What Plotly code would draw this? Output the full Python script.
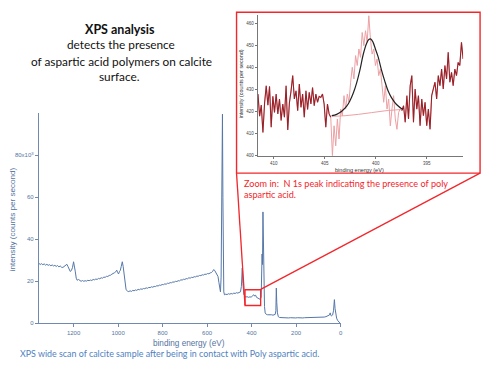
import plotly.graph_objects as go

# ---------------- wide scan data (binding energy eV, intensity in 10^3 cps) ----------------
wide_be = [1356, 1350, 1344, 1338, 1332, 1326, 1320, 1314, 1308, 1302, 1296, 1290, 1284, 1278, 1272,
           1266, 1260, 1254, 1248, 1242, 1236, 1230, 1225, 1220, 1215, 1210, 1205, 1200, 1196, 1192,
           1188, 1184, 1178, 1172, 1166, 1160, 1154, 1148, 1142, 1136, 1130, 1124, 1118, 1112, 1106,
           1100, 1094, 1088, 1082, 1076, 1070, 1064, 1058, 1052, 1046, 1040, 1034, 1028, 1022, 1016,
           1010, 1006, 1002, 998, 994, 990, 986, 981, 977, 973, 968, 964, 958, 952, 946,
           940, 934, 928, 922, 916, 910, 904, 898, 892, 886, 880, 874, 868, 862, 856,
           850, 844, 838, 832, 826, 820, 814, 808, 802, 796, 790, 784, 778, 772, 766,
           760, 754, 748, 742, 736, 730, 724, 718, 712, 706, 700, 694, 688, 682, 676,
           670, 664, 658, 652, 646, 640, 634, 628, 622, 616, 610, 604, 598, 592, 586,
           580, 575, 570, 565, 560, 555, 551, 547, 543, 540, 537, 535, 533, 531, 529,
           527, 525, 522, 516, 510, 504, 498, 492, 486, 480, 474, 468, 462, 456, 450,
           446, 442, 439, 435, 430, 426, 420, 414, 408, 402, 398, 394, 390, 386, 382,
           378, 372, 366, 361, 357, 355, 353, 351, 349, 347, 345, 342, 339, 334, 328,
           322, 316, 310, 304, 298, 294, 291, 289, 287, 284, 280, 274, 266, 258, 250,
           242, 234, 226, 218, 210, 202, 194, 186, 178, 170, 162, 154, 146, 138, 130,
           122, 114, 106, 98, 90, 82, 74, 66, 60, 54, 50, 47, 44, 40, 36,
           32, 28, 25, 22, 18, 14, 10, 6, 2]
wide_cps = [28.6, 28.0, 28.4, 27.9, 28.3, 27.7, 28.1, 27.6, 27.9, 27.4, 27.8, 27.3, 27.6, 27.1, 27.5,
            26.9, 27.3, 26.7, 26.6, 27.2, 27.8, 28.1, 27.0, 25.3, 24.7, 25.1, 26.5, 29.3, 27.5, 24.5,
            21.5, 20.5, 20.9, 20.2, 20.0, 20.4, 20.0, 20.3, 20.1, 20.5, 20.3, 20.6, 20.4, 20.9, 20.7,
            21.1, 20.9, 21.4, 21.2, 21.7, 21.5, 22.0, 21.9, 22.4, 22.3, 22.8, 22.9, 23.4, 23.6, 24.1,
            24.6, 25.3, 24.2, 23.5, 24.6, 25.2, 27.0, 29.3, 27.0, 23.0, 18.0, 16.0, 15.4, 15.1, 15.5,
            15.2, 15.7, 15.5, 15.9, 15.7, 16.2, 16.0, 16.4, 16.2, 16.6, 16.5, 16.9, 16.7, 17.1, 17.0,
            17.4, 17.2, 17.6, 17.5, 17.9, 17.8, 18.2, 18.1, 18.5, 18.4, 18.8, 18.6, 19.1, 19.0, 19.4,
            19.3, 19.7, 19.6, 20.0, 19.9, 20.3, 20.2, 20.7, 20.6, 21.0, 20.9, 21.3, 21.2, 21.7, 21.5,
            21.9, 21.8, 22.2, 22.1, 22.5, 22.4, 22.8, 22.7, 23.1, 23.0, 23.4, 23.3, 23.7, 23.6, 24.0,
            24.2, 24.8, 25.6, 25.0, 24.0, 23.2, 22.3, 19.5, 16.5, 15.0, 22.0, 45.0, 80.0, 99.5, 60.0,
            25.0, 15.0, 13.6, 13.9, 13.7, 14.1, 13.9, 14.2, 14.0, 14.4, 14.2, 14.6, 14.4, 14.8, 15.0,
            17.5, 26.3, 19.0, 13.8, 12.9, 12.5, 12.7, 12.4, 12.6, 12.5, 12.9, 13.1, 13.6, 13.0, 13.4,
            12.4, 12.0, 11.7, 11.4, 12.5, 20.0, 33.0, 28.0, 53.0, 30.0, 15.0, 8.0, 5.0, 4.3, 4.1,
            4.2, 4.0, 4.1, 3.9, 4.0, 4.3, 6.0, 16.8, 10.0, 5.0, 3.2, 2.8, 2.7, 2.8, 2.6,
            2.7, 2.6, 2.7, 2.6, 2.7, 2.6, 2.7, 2.6, 2.7, 2.6, 2.7, 2.7, 2.8, 2.7, 2.8,
            2.7, 2.8, 2.8, 2.9, 2.9, 3.0, 3.0, 3.2, 3.4, 3.5, 4.0, 5.0, 3.8, 3.6, 4.0,
            6.0, 11.3, 7.0, 3.5, 2.5, 1.5, 1.0, 0.6, 0.0]

wide_xticks = [0, 200, 400, 600, 800, 1000, 1200]
wide_yticks = [0, 20, 40, 60, 80]
wide_yticktext = ["0", "20", "40", "60", "80x10<sup>3</sup>"]

# ---------------- N 1s zoom data ----------------
n1s_start = 411.56
n1s_step = 0.1624
n1s_left = [428, 418, 423, 410.6, 424, 431.8, 423, 431.5, 413, 427, 419.7, 428, 419, 425.8, 416,
            423.5, 417.5, 431.8, 411.7, 424, 429.5, 436.4, 425.8, 429.5, 420.5, 432.6, 422, 428, 417.5, 429.5,
            421, 428.8, 423.5, 431, 422.7, 428, 424.3, 427, 426.5, 428, 423.5, 413, 423.5, 419, 417.5]
n1s_mid = [400, 413.6, 404.5, 416.7, 407.6, 421.2, 418.2, 427.3, 421.2, 428, 424.4, 433.4, 440.2, 434.9, 445.5,
           441, 448.5, 444.7, 456, 450, 456.8, 451.5, 463.6, 453, 446.2, 448.5, 441, 444, 436.4, 439.4,
           430.3, 424.3, 431.8, 421.2, 425.8, 413.6, 421.2, 427.3, 416.7, 412, 419.7, 421.2, 420.5]
n1s_right = [422.7, 415.2, 427.3, 416.7, 431.8, 436.4, 415.2, 430.3, 421.2, 427.3, 413.6, 425.8, 418.2,
             424.3, 413.6, 421.2, 412, 427.3, 430.3, 433.4, 425.8, 436.4, 431.8, 439.4, 430.3, 441, 434.9,
             447, 433.4, 437.9, 431.8, 439.4, 436.4, 442.4, 441, 451.5, 444]
n1s_vals = n1s_left + n1s_mid + n1s_right
n1s_be = [round(n1s_start - n1s_step * i, 3) for i in range(len(n1s_vals))]
n_left = len(n1s_left)
n_mid = len(n1s_mid)

fit_be = [404.32, 403.83, 403.34, 402.85, 402.53, 402.2, 401.88, 401.55, 401.23, 400.9, 400.68, 400.48,
          400.26, 400.03, 399.77, 399.44, 399.12, 398.79, 398.47, 398.14, 397.82, 397.49, 397.33]
fit_vals = [418.2, 418.8, 420.2, 422.5, 425.0, 428.5, 433.0, 439.0, 446.0, 451.0, 452.8, 453.0,
            451.5, 448.5, 445.0, 439.0, 434.0, 429.5, 426.5, 424.3, 422.7, 421.5, 421.2]
bg_be = [404.32, 403.0, 401.7, 400.4, 399.1, 397.8, 397.33]
bg_vals = [417.9, 418.2, 418.8, 419.6, 420.4, 420.9, 421.0]

n1s_xticks = [410, 405, 400, 395]
n1s_yticks = [400, 410, 420, 430, 440, 450, 460]

# zoom window drawn on the wide scan (eV, 10^3 cps)
zoom_be = (429.5, 359.3)
zoom_cps = (8.5, 16.0)

BLUE = "#5577a8"
AXBLUE = "#7089b0"
TXTBLUE = "#5574a2"
RED = "#f2262b"
DARK = "#97222a"
PINK = "#eca0a4"
AXF = "Liberation Sans"
SLIDEF = "Lato"

fig = go.Figure()
fig.add_trace(go.Scatter(x=wide_be, y=wide_cps, mode="lines",
                         line=dict(color=BLUE, width=1), xaxis="x", yaxis="y", showlegend=False))
# inset: full trace light, then dark outside the peak region
fig.add_trace(go.Scatter(x=n1s_be, y=n1s_vals, mode="lines",
                         line=dict(color=PINK, width=1), xaxis="x2", yaxis="y2", showlegend=False))
fig.add_trace(go.Scatter(x=bg_be, y=bg_vals, mode="lines", line_shape="spline",
                         line=dict(color=PINK, width=1), xaxis="x2", yaxis="y2", showlegend=False))
fig.add_trace(go.Scatter(x=n1s_be[:n_left], y=n1s_vals[:n_left], mode="lines",
                         line=dict(color=DARK, width=1.1), xaxis="x2", yaxis="y2", showlegend=False))
fig.add_trace(go.Scatter(x=n1s_be[n_left + n_mid - 1:], y=n1s_vals[n_left + n_mid - 1:], mode="lines",
                         line=dict(color=DARK, width=1.1), xaxis="x2", yaxis="y2", showlegend=False))
fig.add_trace(go.Scatter(x=fit_be, y=fit_vals, mode="lines", line_shape="spline",
                         line=dict(color="#222222", width=1.2), xaxis="x2", yaxis="y2", showlegend=False))

W, H = 500, 375
def px(x):
    return x / W
def py(y):
    return 1 - y / H

fig.update_layout(
    width=W, height=H, margin=dict(l=0, r=0, t=0, b=0),
    paper_bgcolor="white", plot_bgcolor="white",
    xaxis=dict(domain=[px(39), px(342)], range=[1356, 0], showline=True, linecolor=AXBLUE, linewidth=1,
               ticks="outside", ticklen=3, tickcolor=AXBLUE, tickvals=wide_xticks,
               tickfont=dict(family=AXF, size=6, color=TXTBLUE), showgrid=False, zeroline=False),
    yaxis=dict(domain=[py(326), py(114)], range=[0, 100], showline=True, linecolor=AXBLUE, linewidth=1,
               ticks="outside", ticklen=3, tickcolor=AXBLUE, tickvals=wide_yticks, ticktext=wide_yticktext,
               tickfont=dict(family=AXF, size=6, color=TXTBLUE), showgrid=False, zeroline=False),
    xaxis2=dict(domain=[px(259), px(465)], range=[411.56, 391.42], anchor="y2", showline=True,
                linecolor="#777777", linewidth=0.8, ticks="outside", ticklen=2.5, tickcolor="#777777",
                tickvals=n1s_xticks, tickfont=dict(family=AXF, size=4.5, color="#444444"),
                showgrid=False, zeroline=False),
    yaxis2=dict(domain=[py(157), py(15)], range=[400, 464], anchor="x2", showline=True,
                linecolor="#777777", linewidth=0.8, ticks="outside", ticklen=2.5, tickcolor="#777777",
                tickvals=n1s_yticks, tickfont=dict(family=AXF, size=4.5, color="#444444"),
                showgrid=False, zeroline=False),
)

ann = []
# slide title
ann.append(dict(text="<b>XPS analysis</b>", x=px(120), y=py(29.3), font=dict(family=SLIDEF, size=12.5, color="#111111")))
ann.append(dict(text="detects the presence", x=px(121), y=py(45), font=dict(family=SLIDEF, size=11.8, color="#111111")))
ann.append(dict(text="of aspartic acid polymers on calcite", x=px(122), y=py(62), font=dict(family=SLIDEF, size=11.8, color="#111111")))
ann.append(dict(text="surface.", x=px(120), y=py(77.5), font=dict(family=SLIDEF, size=11.8, color="#111111")))
# wide scan axis titles
ann.append(dict(text="intensity (counts per second)", x=px(12), y=py(221), textangle=-90,
                font=dict(family=AXF, size=8.1, color=TXTBLUE)))
ann.append(dict(text="binding energy (eV)", x=px(190), y=py(346), font=dict(family=AXF, size=8.2, color=TXTBLUE)))
# caption
ann.append(dict(text="XPS wide scan of calcite sample after being in contact with Poly aspartic acid.",
                x=px(170.5), y=py(356.5), font=dict(family=SLIDEF, size=8.9, color="#4f7fc0")))
# inset axis titles
ann.append(dict(text="intensity (counts per second)", x=px(242), y=py(85), textangle=-90,
                font=dict(family=AXF, size=5.4, color="#333333")))
ann.append(dict(text="binding energy (eV)", x=px(361), y=py(171), font=dict(family=AXF, size=5.6, color="#333333")))
# red note
ann.append(dict(text="Zoom in:  N 1s peak indicating the presence of poly", x=px(243), y=py(185), xanchor="left",
                font=dict(family=SLIDEF, size=9.1, color=RED)))
ann.append(dict(text="aspartic acid.", x=px(243), y=py(196.5), xanchor="left",
                font=dict(family=SLIDEF, size=9.1, color=RED)))
for a in ann:
    a.setdefault("xanchor", "center")
    a.update(xref="paper", yref="paper", yanchor="middle", showarrow=False)
fig.update_layout(annotations=ann)

shapes = [
    dict(type="rect", xref="paper", yref="paper", x0=px(237.5), x1=px(482), y0=py(174.5), y1=py(12.3),
         line=dict(color=RED, width=1.4)),
    dict(type="rect", xref="x", yref="y", x0=zoom_be[0], x1=zoom_be[1], y0=zoom_cps[0], y1=zoom_cps[1],
         line=dict(color=RED, width=1.3)),
    dict(type="line", xref="paper", yref="paper", x0=px(237.5), y0=py(174.5), x1=px(246), y1=py(307.7),
         line=dict(color=RED, width=1.3)),
    dict(type="line", xref="paper", yref="paper", x0=px(482), y0=py(174.5), x1=px(261.7), y1=py(291.7),
         line=dict(color=RED, width=1.3)),
]
fig.update_layout(shapes=shapes)

fig.write_html("out.html", config={"displayModeBar": False},
               post_script="document.body.style.margin='0';document.body.style.overflow='hidden';")
